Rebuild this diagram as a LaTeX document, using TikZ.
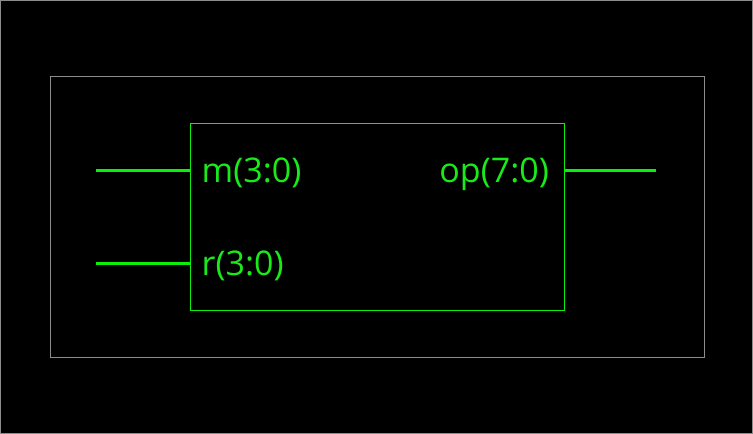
\documentclass[tikz,border=0pt]{standalone}
\usepackage{fontspec}
\setmainfont{Open Sans}
\definecolor{netgreen}{RGB}{10,240,10}
\definecolor{pingreen}{RGB}{25,235,25}
\definecolor{framegray}{RGB}{140,140,140}
\begin{document}
\begin{tikzpicture}[x=1pt,y=-1pt,
  wire/.style={draw=netgreen,line width=3pt},
  portlbl/.style={text=pingreen,inner sep=0pt,font=\fontsize{34}{38}\selectfont}]
\useasboundingbox (0,0) rectangle (753,434);
\filldraw[fill=black,draw=framegray,line width=1pt] (0.5,0.5) rectangle (752.5,433.5);
\draw[framegray,line width=1pt] (50.5,76.5) rectangle (704.5,357.5); % schematic sheet
\node[draw=netgreen,line width=1pt,inner sep=0pt,
      minimum width=374pt,minimum height=187pt] (mult) at (377.5,216.5) {};
% ports
\coordinate (m) at (96,170);
\coordinate (r) at (96,263);
\coordinate (op) at (656,170);
\draw[wire] (m) -- (m -| mult.west)
            (r) -- (r -| mult.west)
            (op) -- (op -| mult.east);
\node[portlbl,anchor=base west] (mtxt) at (201.5,182) {m(3:0)};
\node[portlbl,anchor=base west] (rtxt) at (201.5,275) {r(3:0)};
\node[portlbl,anchor=base east] (optxt) at (549,182) {op(7:0)};
\end{tikzpicture}
\end{document}
